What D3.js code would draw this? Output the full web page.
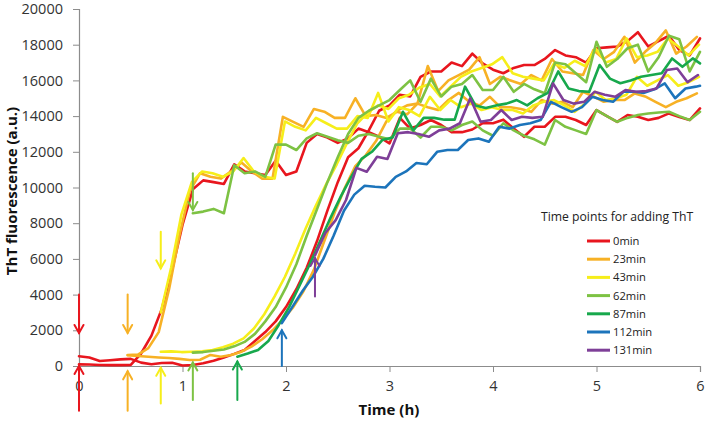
<!DOCTYPE html>
<html><head><meta charset="utf-8">
<script src="https://cdn.jsdelivr.net/npm/d3@7"></script>
<style>
body{margin:0;background:#fff;}
svg text{font-family:"Open Sans","Noto Sans",sans-serif;}
</style></head>
<body><svg id="chart" width="706" height="421"></svg>
<script>
// ---------- data ----------
const xTicks = [0,1,2,3,4,5,6];
const yTicks = [0,2000,4000,6000,8000,10000,12000,14000,16000,18000,20000];
const legendTitle = "Time points for adding ThT";
const seriesNames = ["0min","23min","43min","62min","87min","112min","131min"];
const seriesColors = ["#e8161e","#f7b125","#f6ee1a","#7dc243","#17a84c","#1c74bb","#7e3f98"];
const startTimes = [0, 0.47, 0.79, 1.1, 1.53, 1.96, 2.28]; // h, first reading after adding ThT
const step = 0.1; // h between readings

const red1 = [90,80,60,50,50,60,700,1700,3200,5400,
  7900,9900,10400,10300,10200,11300,10900,10800,10700,11500,
  10700,10900,12500,13000,12800,12500,12750,13300,13100,12840,
  12470,13900,13300,13500,13780,13500,13100,13100,13250,13600,
  13600,13800,13300,12840,13400,13400,13960,13960,13780,13500,
  14340,14000,13680,14060,13960,13780,13900,14150,13950,13780,
  14430];
const red2 = [550,480,280,320,370,400,190,100,170,180,
  30,60,150,300,480,680,900,1400,1900,2500,
  3300,4300,5500,7000,8700,10300,11700,12200,13200,14300,
  14600,15200,15100,16200,16500,16500,17000,16800,17500,16950,
  16600,16400,16700,16860,16860,17200,17700,17400,17300,17000,
  17800,17850,17900,18200,18700,17900,18200,18500,17700,17400,
  18350];
const orange1 = [620,640,1000,1900,4300,7300,9800,10800,10600,10500,
  10900,11400,10900,10500,10500,13960,13680,13400,14400,14250,
  13900,13900,15000,14000,14060,13900,14240,14100,14700,14500,
  14340,14900,15300,14800,14600,15080,14500,14500,14400,14240,
  14900,14700,14800,14500,15360,15100,14800,14900,14900,15270,
  15100,14800,14500,14800,15000,15270];
const orange2 = [600,560,520,480,450,400,340,350,620,520,
  620,800,1100,1500,2000,2600,3300,4200,5400,7000,
  8600,10000,11200,11800,12600,13700,14300,14600,14700,16800,
  15400,16000,16300,16600,17300,15800,16200,16000,15800,16300,
  16000,17200,16500,16400,16300,17700,17200,17600,18440,17000,
  17600,18100,18800,17500,17900,18440];
const yellow1 = [3000,5500,8500,10300,10900,10800,10600,10900,11650,10900,
  10600,10500,13700,13400,13200,13900,13600,13300,13300,14000,
  13900,15300,13700,14500,14340,14000,15080,14340,14900,14500,
  14700,14340,14500,14340,14340,14150,14600,14800,14900,14600,
  14240,14700,15360,14900,15000,15200,16200,15700,16000,16300,
  15700,15900,16200];
const yellow2 = [800,820,780,800,820,900,1050,1250,1550,2100,
  2900,3900,5000,6300,7700,9000,10200,11300,12500,13600,
  14200,14600,14400,15000,15200,15600,15800,15100,15650,16200,
  16500,16700,16900,17300,16400,16200,16100,16000,16950,16700,
  17100,16800,17800,17000,17200,18350,17300,17400,17600,18350,
  17900,17400,18000];
const lightGreen1 = [8560,8650,8800,8560,11250,10800,10900,10600,12400,12400,
  12100,12750,13040,12840,12650,12500,12900,13000,12840,12700,
  13300,13300,12800,13400,13400,13200,13500,13700,13200,12900,
  13600,13200,12900,12700,12400,13780,13400,13200,13000,14340,
  14000,13680,13900,14060,14150,14200,14240,14000,13780,14240];
const lightGreen2 = [750,780,850,920,1100,1350,1800,2500,3300,4400,
  5700,7300,8800,10300,11700,13000,13900,14300,14600,14900,
  15460,16000,14800,16100,15100,15650,15800,16300,15460,15460,
  16200,15360,15800,15500,15280,17000,16900,16400,15900,18160,
  16760,17200,17800,18000,16500,17300,18500,18300,16500,17600];
const green = [520,700,900,1400,2300,3300,4500,5700,7000,8300,
  9500,10600,11600,12000,12660,12800,14240,13200,13900,13900,
  13800,13800,15650,14600,14450,14600,14700,14900,14600,15000,
  15300,16500,15550,15400,15360,16860,16100,15840,16000,16200,
  16300,16400,17230,16760,17230,16950];
const blue = [2400,3300,4200,5000,6000,7300,8700,9600,10100,10040,
  10000,10600,10900,11370,11300,12000,12100,12100,12660,12750,
  12560,13400,13300,13500,13600,13780,14800,14500,14240,14500,
  15080,14900,14800,15360,15360,15300,15500,15830,15000,15550,
  15650,15700];
const purple = [6200,7450,8170,9300,11100,10880,11720,11600,13040,13100,
  13000,12840,13200,13300,13600,15000,13680,13780,14340,13780,
  13960,13900,13960,15830,14900,14700,14800,15360,15200,15080,
  15460,15360,15400,15550,16580,16670,15900,16300];

// arrows: series index, value range (a.u.) along the arrow shaft
const downArrowGroups = [0,1,2,3];
const downArrowFrom = [4000,4000,7520,10800];
const downArrowTo   = [1850,1850,5470,8740];
const upArrowGroups = [0,1,2,3,4,5,6];
const upArrowFrom = [-2500,-2500,-2100,-1900,-1900,0,3900];
const upArrowTo   = [0,-300,-100,200,250,2000,6050];

// ---------- chart ----------
const W = 706, H = 421;
const m = {left:79, right:6, top:9, bottom:55};
const svg = d3.select("#chart");
const x = d3.scaleLinear().domain([0,6]).range([m.left, W-m.right]);
const y = d3.scaleLinear().domain([0,20000]).range([H-m.bottom, m.top]);
const axisColor = "#8c8c8c";

// axes
const gx = svg.append("g").attr("transform",`translate(0,${H-m.bottom})`)
  .call(d3.axisBottom(x).tickValues(xTicks).tickSize(6).tickPadding(9).tickFormat(d3.format("d")));
const gy = svg.append("g").attr("transform",`translate(${m.left},0)`)
  .call(d3.axisLeft(y).tickValues(yTicks).tickSize(6).tickPadding(10).tickFormat(d3.format("d")));
[gx,gy].forEach(g=>{
  g.select(".domain").attr("stroke",axisColor).attr("stroke-width",1.2);
  g.selectAll(".tick line").attr("stroke",axisColor).attr("stroke-width",1);
  g.selectAll(".tick text").attr("fill","#333").attr("font-size",14.5)
    .attr("font-family","'Open Sans','Noto Sans',sans-serif");
});

svg.append("text").attr("x",389).attr("y",415).attr("text-anchor","middle")
  .attr("font-weight","bold").attr("font-size",15).attr("fill","#111").text("Time (h)");
svg.append("text").attr("transform","translate(17,191) rotate(-90)").attr("text-anchor","middle")
  .attr("font-weight","bold").attr("font-size",15).attr("fill","#111").text("ThT fluorescence (a.u.)");

// series
const seriesList = [
  {g:0, v:red1},{g:0, v:red2},
  {g:1, v:orange1},{g:1, v:orange2},
  {g:2, v:yellow1},{g:2, v:yellow2},
  {g:3, v:lightGreen1},{g:3, v:lightGreen2},
  {g:4, v:green},{g:5, v:blue},{g:6, v:purple}
];
const line = d3.line().x(d=>x(d.t)).y(d=>y(d.v));
svg.append("g").selectAll("path").data(seriesList).join("path")
  .attr("d", s => line(s.v.map((v,k)=>({t:Math.min(startTimes[s.g]+k*step,6), v}))))
  .attr("fill","none").attr("stroke", s=>seriesColors[s.g])
  .attr("stroke-width",2.6).attr("stroke-linejoin","round").attr("stroke-linecap","round");

// arrows
const ag = svg.append("g").attr("fill","none").attr("stroke-width",2).attr("stroke-linecap","round");
function arrow(gi, v0, v1){
  const xx = x(startTimes[gi]), y0 = y(v0), y1 = y(v1);
  const dir = y1 > y0 ? 1 : -1;
  ag.append("line").attr("x1",xx).attr("x2",xx).attr("y1",y0).attr("y2",y1).attr("stroke",seriesColors[gi]);
  ag.append("polyline").attr("points",`${xx-4.5},${y1-dir*8} ${xx},${y1} ${xx+4.5},${y1-dir*8}`)
    .attr("stroke",seriesColors[gi]).attr("stroke-linejoin","miter");
}
downArrowGroups.forEach((gi,i)=>arrow(gi, downArrowFrom[i], downArrowTo[i]));
upArrowGroups.forEach((gi,i)=>arrow(gi, upArrowFrom[i], upArrowTo[i]));

// legend
svg.append("text").attr("x",541).attr("y",221).attr("font-size",12.2).attr("fill","#222").text(legendTitle);
const lg = svg.append("g");
seriesNames.forEach((n,i)=>{
  const yy = 241 + i*18.2;
  lg.append("line").attr("x1",587).attr("x2",610).attr("y1",yy).attr("y2",yy)
    .attr("stroke",seriesColors[i]).attr("stroke-width",3);
  lg.append("text").attr("x",613).attr("y",yy+4).attr("font-size",11.2).attr("fill","#222").text(n);
});
</script></body></html>
